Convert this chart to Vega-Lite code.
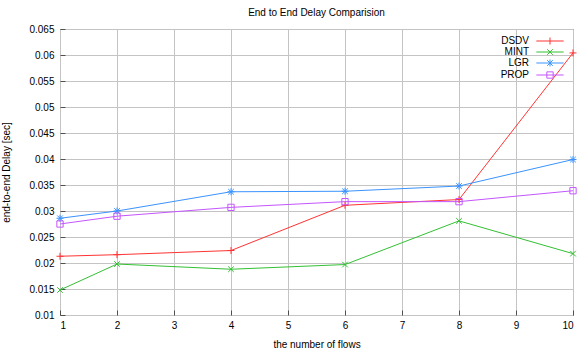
{
  "$schema": "https://vega.github.io/schema/vega-lite/v6.json",
  "width": 513,
  "height": 286,
  "autosize": {"type": "none"},
  "padding": {"left": 60, "top": 29, "right": 5, "bottom": 37},
  "background": "white",
  "config": {
    "font": "Liberation Sans",
    "view": {"stroke": "#505050", "strokeWidth": 1},
    "axis": {
      "grid": true,
      "gridColor": "#c4c4c4",
      "gridWidth": 1,
      "domain": false,
      "tickSize": -5,
      "tickColor": "#505050",
      "labelFontSize": 10,
      "labelColor": "#000000",
      "titleFontSize": 10,
      "titleFontWeight": "normal",
      "titleColor": "#000000"
    }
  },
  "title": {"text": "End to End Delay Comparision", "fontSize": 10, "fontWeight": "normal", "color": "#000000", "offset": 6},
  "data": {
    "values": [
      {"flows": 1, "protocol": "DSDV", "delay": 0.0213},
      {"flows": 2, "protocol": "DSDV", "delay": 0.0216},
      {"flows": 4, "protocol": "DSDV", "delay": 0.0224},
      {"flows": 6, "protocol": "DSDV", "delay": 0.0311},
      {"flows": 8, "protocol": "DSDV", "delay": 0.0322},
      {"flows": 10, "protocol": "DSDV", "delay": 0.0604},
      {"flows": 1, "protocol": "MINT", "delay": 0.0148},
      {"flows": 2, "protocol": "MINT", "delay": 0.0198},
      {"flows": 4, "protocol": "MINT", "delay": 0.0188},
      {"flows": 6, "protocol": "MINT", "delay": 0.0197},
      {"flows": 8, "protocol": "MINT", "delay": 0.0281},
      {"flows": 10, "protocol": "MINT", "delay": 0.0218},
      {"flows": 1, "protocol": "LGR", "delay": 0.0286},
      {"flows": 2, "protocol": "LGR", "delay": 0.0300},
      {"flows": 4, "protocol": "LGR", "delay": 0.0337},
      {"flows": 6, "protocol": "LGR", "delay": 0.0338},
      {"flows": 8, "protocol": "LGR", "delay": 0.0348},
      {"flows": 10, "protocol": "LGR", "delay": 0.0399},
      {"flows": 1, "protocol": "PROP", "delay": 0.0275},
      {"flows": 2, "protocol": "PROP", "delay": 0.0290},
      {"flows": 4, "protocol": "PROP", "delay": 0.0307},
      {"flows": 6, "protocol": "PROP", "delay": 0.0318},
      {"flows": 8, "protocol": "PROP", "delay": 0.0318},
      {"flows": 10, "protocol": "PROP", "delay": 0.0339}
    ]
  },
  "encoding": {
    "x": {
      "field": "flows",
      "type": "quantitative",
      "scale": {"domain": [1, 10], "nice": false, "zero": false},
      "axis": {"values": [1, 2, 3, 4, 5, 6, 7, 8, 9, 10], "title": "the number of flows", "labelPadding": 10, "titlePadding": 9}
    },
    "y": {
      "field": "delay",
      "type": "quantitative",
      "scale": {"domain": [0.01, 0.065], "nice": false, "zero": false},
      "axis": {
        "values": [0.01, 0.015, 0.02, 0.025, 0.03, 0.035, 0.04, 0.045, 0.05, 0.055, 0.06, 0.065],
        "format": "~g",
        "title": "end-to-end Delay [sec]",
        "labelPadding": 11,
        "titlePadding": 17
      }
    },
    "color": {
      "field": "protocol",
      "type": "nominal",
      "scale": {"domain": ["DSDV", "MINT", "LGR", "PROP"], "range": ["#ff3333", "#33c033", "#3a93ff", "#c455ff"]},
      "legend": {
        "orient": "none",
        "legendX": 485,
        "legendY": 7,
        "title": null,
        "labelAlign": "right",
        "labelOffset": -26,
        "labelFontSize": 10,
        "labelColor": "#000000",
        "symbolSize": 49,
        "symbolStrokeWidth": 1,
        "rowPadding": 0,
        "encode": {
          "symbols": {
            "update": {
              "shape": {"signal": "datum.value === 'DSDV' ? 'M-3.9,0L3.9,0M0,-1L0,1' : datum.value === 'MINT' ? 'M-3.9,0L3.9,0M-0.8,-0.8L0.8,0.8M-0.8,0.8L0.8,-0.8' : datum.value === 'LGR' ? 'M-3.9,0L3.9,0M0,-1L0,1M-0.8,-0.8L0.8,0.8M-0.8,0.8L0.8,-0.8' : 'M-3.9,0L3.9,0M-0.9,-0.9L0.9,-0.9L0.9,0.9L-0.9,0.9Z'"},
              "fill": {"value": "transparent"}
            }
          }
        }
      }
    }
  },
  "layer": [
    {"mark": {"type": "line", "strokeWidth": 1}},
    {
      "transform": [{"filter": "datum.protocol === 'DSDV'"}],
      "mark": {"type": "point", "filled": false, "size": 49, "strokeWidth": 1, "opacity": 1, "shape": "M-1,0L1,0M0,-1L0,1"}
    },
    {
      "transform": [{"filter": "datum.protocol === 'MINT'"}],
      "mark": {"type": "point", "filled": false, "size": 49, "strokeWidth": 1, "opacity": 1, "shape": "M-0.8,-0.8L0.8,0.8M-0.8,0.8L0.8,-0.8"}
    },
    {
      "transform": [{"filter": "datum.protocol === 'LGR'"}],
      "mark": {"type": "point", "filled": false, "size": 49, "strokeWidth": 1, "opacity": 1, "shape": "M-1,0L1,0M0,-1L0,1M-0.8,-0.8L0.8,0.8M-0.8,0.8L0.8,-0.8"}
    },
    {
      "transform": [{"filter": "datum.protocol === 'PROP'"}],
      "mark": {"type": "point", "filled": false, "size": 49, "strokeWidth": 1, "opacity": 1, "shape": "M-0.9,-0.9L0.9,-0.9L0.9,0.9L-0.9,0.9Z"}
    }
  ]
}
